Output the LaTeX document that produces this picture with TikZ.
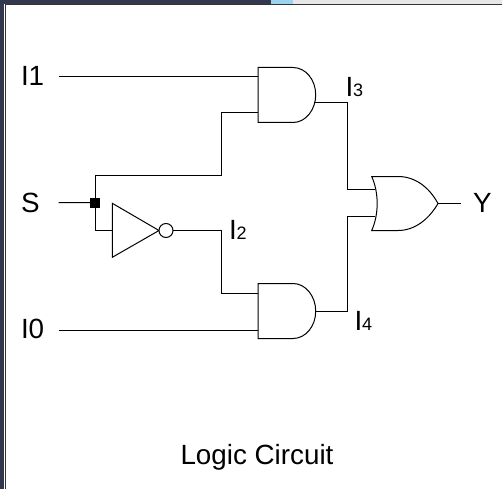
\documentclass[tikz,border=0pt]{standalone}
\usepackage{fontspec}
\setmainfont{Liberation Sans}
\definecolor{chrome}{HTML}{34384F}
\definecolor{chromeblue}{HTML}{9AD4F0}
\definecolor{chromegrey}{HTML}{E8E6E8}
\tikzset{
  wire/.style={draw=black,line width=1pt,line join=miter},
  gate/.style={draw=black,line width=1pt,fill=white,line join=miter},
  lbl/.style={anchor=base west,inner sep=0pt,outer sep=0pt,text=black,font=\fontsize{27.8}{30}\selectfont},
  dot/.style={fill=black,draw=none,minimum size=10pt,inner sep=0pt,outer sep=0pt,rectangle},
  notc/.style={circle,draw=black,line width=1pt,fill=white,minimum size=14pt,inner sep=0pt,outer sep=0pt}
}
\newcommand{\sub}[1]{{\fontsize{18}{20}\selectfont #1}}
\begin{document}
\begin{tikzpicture}[x=1pt,y=-1pt]
\useasboundingbox (0,0) rectangle (502,489);
% page chrome
\fill[white] (0,0) rectangle (502,489);
\fill[chromegrey] (293,0) rectangle (502,4);
\fill[chromeblue] (271,0) rectangle (293,4);
\fill[chrome] (0,0) rectangle (271,4);
\fill[chrome] (0,0) rectangle (4,489);
\draw[line width=1.2pt,black!80] (5.2,489) -- (5.2,4.6) -- (502,4.6);
% ports
\coordinate (a1in1) at (258,76.5);
\coordinate (a1in2) at (258,112.5);
\coordinate (a1out) at (315,102.5);
\coordinate (a2in1) at (258,293.5);
\coordinate (a2in2) at (258,330.5);
\coordinate (a2out) at (315.7,311.5);
\coordinate (orin1) at (375,189.5);
\coordinate (orin2) at (375,216.5);
\coordinate (orout) at (438,203.5);
\coordinate (notin) at (112.3,230.5);
\coordinate (i1end) at (58.7,76.5);
\coordinate (sstart) at (58.7,202.5);
\coordinate (i0end) at (58.7,330.5);
\coordinate (yend) at (460.7,203.5);
\node[dot] (jn) at (95,202.7) {};
% wires
\draw[wire] (i1end) -- (a1in1);
\draw[wire] (sstart) -- (jn.center);
\draw[wire] (95.5,202.7) |- (221.5,175.5) |- (a1in2);
\draw[wire] (95.5,202.7) |- (notin);
\draw[wire] (i0end) -- (a2in2);
\draw[wire] (a1out) -| (347.5,189.5) -- (orin1);
\draw[wire] (a2out) -| (347.5,216.5) -- (orin2);
\draw[wire] (orout) -- (yend);
% gates
\draw[gate] (258,67.5) -- (293,67.5) .. controls (305.5,67.5) and (315.7,79.6) .. (315.7,94.8) .. controls (315.7,110) and (305.5,122.5) .. (293,122.5) -- (258,122.5) -- cycle;
\draw[gate] (258,283.5) -- (293,283.5) .. controls (305.5,283.5) and (315.7,296) .. (315.7,311.2) .. controls (315.7,326.4) and (305.5,338.5) .. (293,338.5) -- (258,338.5) -- cycle;
\draw[gate] (371.7,176.5) -- (398,176.5) .. controls (415,176.5) and (429,187) .. (438,203.5) .. controls (429,219) and (415,230.5) .. (398,230.5) -- (371.7,230.5) .. controls (379,214) and (379,193) .. (371.7,176.5) -- cycle;
\draw[gate] (112.3,203.3) -- (159,230.5) -- (112.3,257.3) -- cycle;
\node[notc] (inv) at (166,230.5) {};
\draw[wire] (inv.east) -- (221.5,230.5) |- (a2in1);
% labels
\node[lbl] (li1) at (21,85.5) {I1};
\node[lbl] (ls) at (21,212) {S};
\node[lbl] (li0) at (21,338.5) {I0};
\node[lbl] (lsub2) at (229,239.5) {I\sub{2}};
\node[lbl] (lsub3) at (345.5,96.5) {I\sub{3}};
\node[lbl] (lsub4) at (354.5,330.5) {I\sub{4}};
\node[lbl] (ly) at (473,212) {Y};
\node[lbl] (title) at (180.5,464) {Logic Circuit};
\end{tikzpicture}
\end{document}
